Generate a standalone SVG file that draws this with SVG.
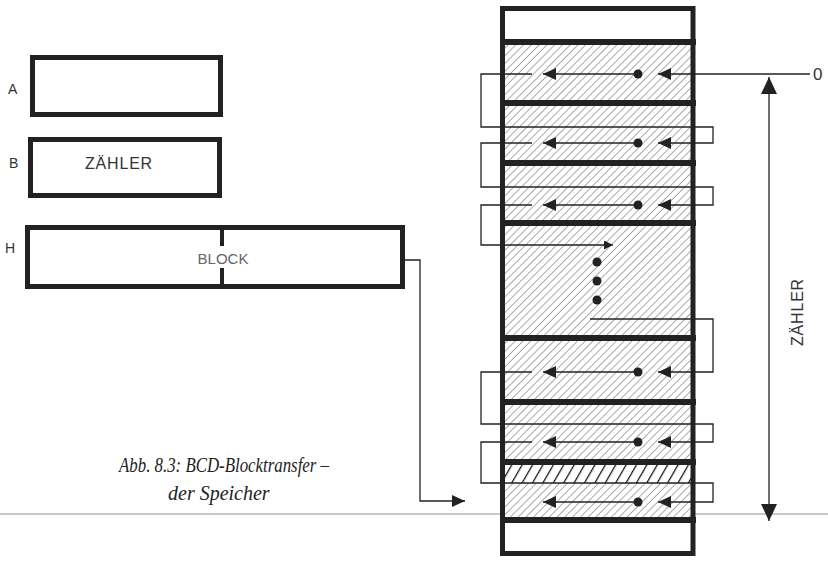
<svg xmlns="http://www.w3.org/2000/svg" width="828" height="561" viewBox="0 0 828 561">
<defs>
<pattern id="hatch" patternUnits="userSpaceOnUse" width="5.5" height="5.5" patternTransform="rotate(45)">
<line x1="0" y1="0" x2="0" y2="5.5" stroke="#555" stroke-width="1"/>
</pattern>
<pattern id="dense" patternUnits="userSpaceOnUse" width="9" height="9" patternTransform="rotate(30)">
<line x1="0" y1="0" x2="0" y2="9" stroke="#111" stroke-width="2.5"/>
</pattern>
<marker id="ah" markerUnits="userSpaceOnUse" markerWidth="13" markerHeight="12" refX="13" refY="6" orient="auto-start-reverse">
<path d="M0,0 L13,6 L0,12 Z" fill="#222"/>
</marker>
<marker id="ahs" markerUnits="userSpaceOnUse" markerWidth="9" markerHeight="9" refX="9" refY="4.5" orient="auto">
<path d="M0,0 L9,4.5 L0,9 Z" fill="#222"/>
</marker>
<marker id="ahb" markerUnits="userSpaceOnUse" markerWidth="17" markerHeight="16" refX="17" refY="8" orient="auto-start-reverse">
<path d="M0,0 L17,8 L0,16 Z" fill="#222"/>
</marker>
</defs>
<style>
.box{fill:#fff;stroke:#222;stroke-width:5}
.sep{stroke:#222;stroke-width:6}
.ln{fill:none;stroke:#222;stroke-width:1.3}
.lbl{font-family:"Liberation Sans",Arial,sans-serif;fill:#333}
.cap{font-family:"Liberation Serif","Times New Roman",serif;font-style:italic;fill:#222;font-size:20px}
</style>

<!-- gray rule -->
<line x1="0" y1="514" x2="828" y2="514" stroke="#c8c8c8" stroke-width="2"/>

<g id="regA">
<rect class="box" x="32.5" y="57.5" width="188" height="57"/>
<text class="lbl" x="8" y="94" font-size="14">A</text>
</g>
<g id="regB">
<rect class="box" x="30.5" y="139.5" width="189" height="56"/>
<text class="lbl" x="9" y="168" font-size="14">B</text>
<text class="lbl" x="119" y="169" font-size="16" text-anchor="middle" letter-spacing="0.8">ZÄHLER</text>
</g>
<g id="regH">
<rect class="box" x="27.5" y="227.5" width="375" height="59"/>
<line x1="222" y1="228" x2="222" y2="246" stroke="#222" stroke-width="4"/>
<line x1="222" y1="268" x2="222" y2="287" stroke="#222" stroke-width="4"/>
<text class="lbl" x="5" y="253" font-size="14">H</text>
<text class="lbl" x="223" y="264" font-size="15" text-anchor="middle" style="fill:#666">BLOCK</text>
</g>

<g id="memory">
<rect x="502.5" y="42" width="190.5" height="478" fill="#fff"/>
<rect x="502.5" y="42" width="190.5" height="478" fill="url(#hatch)"/>
<rect x="505" y="465" width="186" height="18" fill="#fff"/>
<rect x="505" y="465" width="186" height="18" fill="url(#dense)"/>
<rect x="502.5" y="8.5" width="190.5" height="545" fill="none" stroke="#222" stroke-width="5"/>
<line class="sep" x1="500" y1="42" x2="696" y2="42"/>
<line class="sep" x1="500" y1="103" x2="696" y2="103"/>
<line class="sep" x1="500" y1="163" x2="696" y2="163"/>
<line class="sep" x1="500" y1="223" x2="696" y2="223"/>
<line class="sep" x1="500" y1="338" x2="696" y2="338"/>
<line class="sep" x1="500" y1="402" x2="696" y2="402"/>
<line class="sep" x1="500" y1="462" x2="696" y2="462"/>
<line class="sep" x1="500" y1="520" x2="696" y2="520"/>
<g fill="#222">
<circle cx="638" cy="74" r="4.5"/>
<circle cx="638" cy="143" r="4.5"/>
<circle cx="638" cy="205" r="4.5"/>
<circle cx="638" cy="372" r="4.5"/>
<circle cx="638" cy="442" r="4.5"/>
<circle cx="638" cy="502" r="4.5"/>
<circle cx="597" cy="262" r="4.5"/>
<circle cx="597" cy="281" r="4.5"/>
<circle cx="597" cy="300" r="4.5"/>
</g>
</g>

<g id="connectors">
<line class="ln" x1="638" y1="74" x2="543" y2="74" marker-end="url(#ah)"/>
<line class="ln" x1="638" y1="143" x2="543" y2="143" marker-end="url(#ah)"/>
<line class="ln" x1="638" y1="205" x2="543" y2="205" marker-end="url(#ah)"/>
<line class="ln" x1="638" y1="372" x2="543" y2="372" marker-end="url(#ah)"/>
<line class="ln" x1="638" y1="442" x2="543" y2="442" marker-end="url(#ah)"/>
<line class="ln" x1="638" y1="502" x2="543" y2="502" marker-end="url(#ah)"/>
<line class="ln" x1="810" y1="74" x2="658" y2="74" marker-end="url(#ah)"/>
<polyline class="ln" points="532,74 481,74 481,127 713,127 713,143 658,143" marker-end="url(#ah)"/>
<polyline class="ln" points="532,143 481,143 481,187 713,187 713,205 658,205" marker-end="url(#ah)"/>
<polyline class="ln" points="532,205 481,205 481,245 613,245" marker-end="url(#ahs)"/>
<polyline class="ln" points="590,319 713,319 713,372 658,372" marker-end="url(#ah)"/>
<polyline class="ln" points="532,372 481,372 481,424 713,424 713,442 658,442" marker-end="url(#ah)"/>
<polyline class="ln" points="532,442 481,442 481,483 713,483 713,502 658,502" marker-end="url(#ah)"/>
<polyline class="ln" points="405,260 420,260 420,501 465,501" marker-end="url(#ah)"/>
<line class="ln" x1="769" y1="77" x2="769" y2="521" marker-start="url(#ahb)" marker-end="url(#ahb)"/>
</g>

<text class="lbl" x="813" y="80" font-size="17">0</text>
<text class="lbl" x="0" y="0" font-size="16" text-anchor="middle" letter-spacing="0.8" transform="translate(803,312) rotate(-90)">ZÄHLER</text>

<g id="caption">
<text class="cap" x="119" y="472" textLength="210" lengthAdjust="spacingAndGlyphs">Abb. 8.3: BCD-Blocktransfer –</text>
<text class="cap" x="168" y="500">der Speicher</text>
</g>
</svg>
